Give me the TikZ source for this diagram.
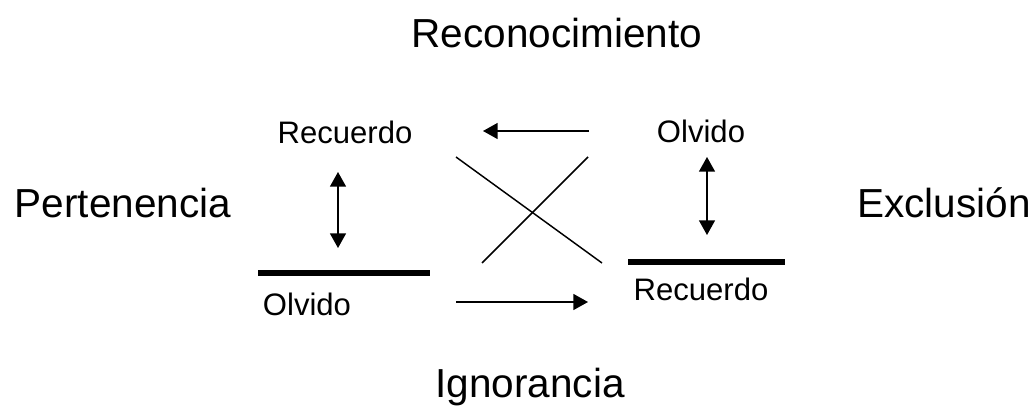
\documentclass[tikz,border=0pt]{standalone}
\usepackage{fontspec}
\setmainfont{Liberation Sans}
\usetikzlibrary{arrows.meta}
\begin{document}
\begin{tikzpicture}[x=0.75pt, y=-0.75pt, line width=1.1pt,
    bigtext/.style={anchor=base,inner sep=0pt,font=\fontsize{30.4}{34}\selectfont},
    smalltext/.style={anchor=base,inner sep=0pt,font=\fontsize{23.3}{27}\selectfont},
    bar/.style={line width=3.8pt},
    link/.style={-{Triangle[length=11pt,width=12pt]}},
    twolink/.style={{Triangle[length=11pt,width=12pt]}-{Triangle[length=11pt,width=12pt]}} ]
    \useasboundingbox (0,0) rectangle (1034,407);
    % the four big labels
    \node at (557,47) [bigtext] (rec) {Reconocimiento};
    \node at (123,217) [bigtext] (per) {Pertenencia};
    \node at (944,217) [bigtext] (exc) {Exclusión};
    \node at (530,397) [bigtext] (ign) {Ignorancia};
    % small labels
    \node at (345,143) [smalltext] (recL) {Recuerdo};
    \node at (307,315) [smalltext] (olvL) {Olvido};
    \node at (701,142) [smalltext] (olvR) {Olvido};
    \node at (701,300) [smalltext] (recR) {Recuerdo};
    % bars
    \coordinate (bl1) at (258,273);
    \coordinate (bl2) at (430,273);
    \coordinate (br1) at (628,262);
    \coordinate (br2) at (785,262);
    \draw [bar] (bl1) -- (bl2);
    \draw [bar] (br1) -- (br2);
    % vertical double arrows
    \coordinate (al1) at (338,172);
    \coordinate (al2) at (338,248);
    \coordinate (ar1) at (707,157);
    \coordinate (ar2) at (707,235);
    \draw [twolink] (al1) -- (al2);
    \draw [twolink] (ar1) -- (ar2);
    % horizontal arrows
    \coordinate (ht1) at (589,131);
    \coordinate (ht2) at (483,131);
    \coordinate (hb1) at (456,302);
    \coordinate (hb2) at (588,302);
    \draw [link] (ht1) -- (ht2);
    \draw [link] (hb1) -- (hb2);
    % cross
    \coordinate (x1) at (456,157);
    \coordinate (x2) at (602,263);
    \coordinate (x3) at (588,157);
    \coordinate (x4) at (482,263);
    \draw (x1) -- (x2);
    \draw (x3) -- (x4);
\end{tikzpicture}
\end{document}
